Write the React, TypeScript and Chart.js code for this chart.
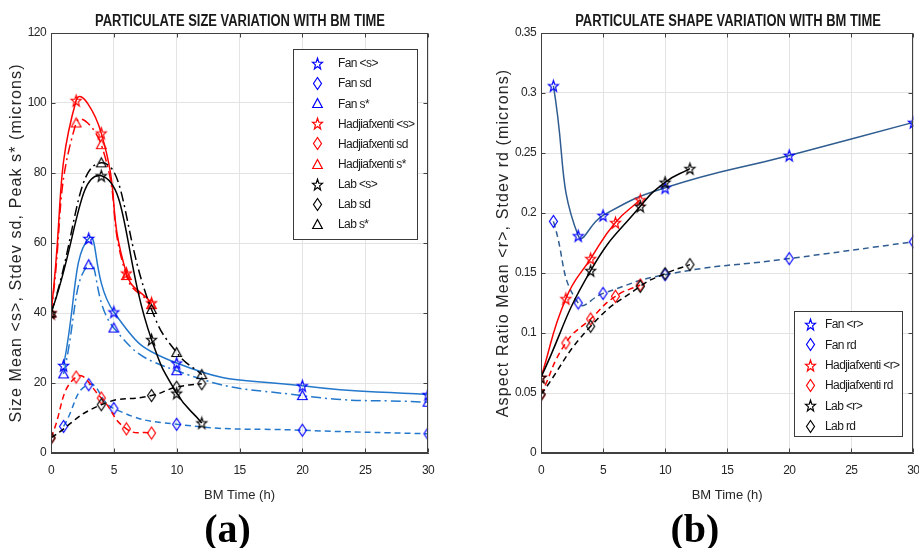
import React, { useEffect, useRef } from "react";
import { Chart, registerables } from "chart.js";

Chart.register(...registerables);

// ---------- Panel (a): particulate size ----------
const fanTime = [1, 3, 5, 10, 20, 30];
const hadjTime = [0, 2, 4, 6, 8];
const labTime = [0, 4, 8, 10, 12];

const fanMeanS = [25, 61.3, 40.3, 25.7, 19.2, 16.7];
const fanSdS = [7.6, 19.5, 12.7, 8.2, 6.5, 5.5];
const fanPeakS = [22.6, 53.8, 35.7, 23.5, 16.4, 14.5];
const hadjMeanS = [40, 100.7, 91.4, 51.4, 42.9];
const hadjSdS = [4.3, 21.7, 15.7, 6.9, 5.7];
const hadjPeakS = [40, 94.3, 88.1, 50.7, 42.4];
const labMeanS = [40, 79.2, 32.4, 17.1, 8.6];
const labSdS = [4.3, 13.8, 16.4, 18.8, 19.8];
const labPeakS = [40, 82.9, 41.0, 28.7, 22.4];

const legendA = [
  "Fan <s>", "Fan sd", "Fan s*",
  "Hadjiafxenti <s>", "Hadjiafxenti sd", "Hadjiafxenti s*",
  "Lab <s>", "Lab sd", "Lab s*",
];

// ---------- Panel (b): particulate shape ----------
const fanMeanR = [0.306, 0.181, 0.198, 0.221, 0.248, 0.2755];
const fanSdR = [0.193, 0.125, 0.133, 0.1486, 0.162, 0.176];
const hadjMeanR = [0.063, 0.1286, 0.162, 0.192, 0.211];
const hadjSdR = [0.0486, 0.0917, 0.1117, 0.1306, 0.14];
const labMeanR = [0.063, 0.152, 0.2056, 0.2256, 0.237];
const labSdR = [0.0486, 0.1056, 0.1389, 0.1494, 0.157];

const legendB = [
  "Fan <r>", "Fan rd", "Hadjiafxenti <r>", "Hadjiafxenti rd", "Lab <r>", "Lab rd",
];

const titleA = "PARTICULATE SIZE VARIATION WITH BM TIME";
const titleB = "PARTICULATE SHAPE VARIATION WITH BM TIME";
const yTitleA = "Size Mean <s>, Stdev sd, Peak s* (microns)";
const yTitleB = "Aspect Ratio Mean <r>, Stdev rd (microns)";
const xTitle = "BM Time (h)";

// ---------- styles ----------
const SANS = "'Liberation Sans', Arial, sans-serif";
const TICK = "#262626";
const GRID = "#e3e3e3";
const AXIS = "#404040";
const BLUE = "#0000ff";
const RED = "#ff0000";
const BLACK = "#000000";
const FAN_A = "#2478cc";
const FAN_B = "#2f5d91";
const DASH = [6, 4];
const DASHDOT = [10, 4, 2, 4];

type Shape = "star" | "diamond" | "triangle";

function makeMarker(shape: Shape, color: string): HTMLCanvasElement {
  const c = document.createElement("canvas");
  const size = 15;
  c.width = size;
  c.height = size;
  const g = c.getContext("2d")!;
  g.strokeStyle = color;
  g.lineWidth = 1.2;
  const cx = size / 2;
  const cy = size / 2;
  g.beginPath();
  if (shape === "star") {
    const R = 6;
    const r = 2.5;
    for (let k = 0; k < 10; k++) {
      const a = -Math.PI / 2 + (k * Math.PI) / 5;
      const rad = k % 2 === 0 ? R : r;
      const px = cx + rad * Math.cos(a) * 0.88;
      const py = cy + 0.6 + rad * Math.sin(a);
      if (k === 0) g.moveTo(px, py);
      else g.lineTo(px, py);
    }
  } else if (shape === "diamond") {
    g.moveTo(cx, cy - 6);
    g.lineTo(cx + 4, cy);
    g.lineTo(cx, cy + 6);
    g.lineTo(cx - 4, cy);
  } else {
    g.moveTo(cx, cy - 5);
    g.lineTo(cx + 4.8, cy + 4);
    g.lineTo(cx - 4.8, cy + 4);
  }
  g.closePath();
  g.stroke();
  return c;
}

const pts = (xs: number[], ys: number[]) => xs.map((x, i) => ({ x, y: ys[i] }));

function ds(label: string, xs: number[], ys: number[], line: string, dash: number[], marker: HTMLCanvasElement, order: number) {
  return {
    label,
    data: pts(xs, ys),
    borderColor: line,
    borderWidth: 1.5,
    borderDash: dash,
    tension: 0.5,
    fill: false,
    pointStyle: marker,
    pointRadius: 5,
    pointBackgroundColor: "rgba(0,0,0,0)",
    pointBorderColor: line,
    order,
  };
}

function framePlugin() {
  return {
    id: "frame",
    afterDatasetsDraw(chart: any) {
      const { ctx, chartArea: a, scales } = chart;
      ctx.save();
      ctx.strokeStyle = AXIS;
      ctx.lineWidth = 1;
      const L = Math.round(a.left) + 0.5;
      const R = Math.round(a.right) - 0.5;
      const T = Math.round(a.top) + 0.5;
      const B = Math.round(a.bottom) - 0.5;
      ctx.strokeRect(L, T, R - L, B - T);
      ctx.beginPath();
      scales.x.ticks.forEach((t: any) => {
        const px = Math.round(scales.x.getPixelForValue(t.value)) + 0.5;
        ctx.moveTo(px, B); ctx.lineTo(px, B - 4);
        ctx.moveTo(px, T); ctx.lineTo(px, T + 4);
      });
      scales.y.ticks.forEach((t: any) => {
        const py = Math.round(scales.y.getPixelForValue(t.value)) + 0.5;
        ctx.moveTo(L, py); ctx.lineTo(L + 4, py);
        ctx.moveTo(R, py); ctx.lineTo(R - 4, py);
      });
      ctx.stroke();
      ctx.restore();
    },
  };
}

interface LegendGeom { x: number; y: number; w: number; h: number; firstY: number; rowH: number; markerX: number; textX: number; }

function legendPlugin(labels: string[], markers: HTMLCanvasElement[], g: LegendGeom) {
  return {
    id: "boxLegend",
    afterDraw(chart: any) {
      const ctx = chart.ctx;
      ctx.save();
      ctx.fillStyle = "#ffffff";
      ctx.fillRect(g.x, g.y, g.w, g.h);
      ctx.strokeStyle = "#3a3a3a";
      ctx.lineWidth = 1;
      ctx.strokeRect(g.x + 0.5, g.y + 0.5, g.w, g.h);
      ctx.font = `12px ${SANS}`;
      (ctx as any).letterSpacing = "-0.6px";
      ctx.fillStyle = "#1a1a1a";
      ctx.textAlign = "left";
      ctx.textBaseline = "middle";
      labels.forEach((lab, i) => {
        const cy = g.firstY + i * g.rowH;
        const m = markers[i];
        ctx.drawImage(m, Math.round(g.markerX - m.width / 2), Math.round(cy - m.height / 2));
        ctx.fillText(lab, g.textX, cy + 0.5);
      });
      ctx.restore();
    },
  };
}

// wrap a scale drawing method so that it uses a given canvas letter spacing
function withSpacing(s: any, method: string, spacing: string) {
  const key = "__ls_" + method;
  if (s[key]) return;
  const orig = s[method].bind(s);
  s[method] = (...args: any[]) => {
    const c = s.ctx;
    c.save();
    c.letterSpacing = spacing;
    orig(...args);
    c.restore();
  };
  s[key] = true;
}

function makeScales(yMax: number, yStep: number, yTitle: string, yTitlePad: number, yWidth: number, fmt: (v: number) => string) {
  return {
    x: {
      type: "linear",
      min: 0,
      max: 30,
      ticks: { stepSize: 5, padding: 10, color: TICK, maxRotation: 0, autoSkip: false, font: { family: SANS, size: 12 } },
      grid: { color: GRID, drawTicks: false },
      border: { color: AXIS },
      title: { display: true, text: xTitle, color: TICK, font: { family: SANS, size: 13 }, padding: { top: 0, bottom: 10 } },
      afterFit: (s: any) => {
        s.height = 60;
        withSpacing(s, "drawLabels", "-0.6px");
      },
    },
    y: {
      type: "linear",
      min: 0,
      max: yMax,
      ticks: { stepSize: yStep, padding: 5, color: TICK, font: { family: SANS, size: 12 }, callback: (v: any) => fmt(Number(v)) },
      grid: { color: GRID, drawTicks: false },
      border: { color: AXIS },
      title: { display: true, text: yTitle, color: TICK, font: { family: SANS, size: 16 }, padding: { top: yTitlePad, bottom: 0 } },
      afterFit: (s: any) => {
        s.width = yWidth;
        withSpacing(s, "drawTitle", "1.1px");
        withSpacing(s, "drawLabels", "-0.6px");
      },
    },
  };
}

export default function App() {
  const refA = useRef<HTMLCanvasElement>(null);
  const refB = useRef<HTMLCanvasElement>(null);

  useEffect(() => {
    const mk = {
      bs: makeMarker("star", BLUE), bd: makeMarker("diamond", BLUE), bt: makeMarker("triangle", BLUE),
      rs: makeMarker("star", RED), rd: makeMarker("diamond", RED), rt: makeMarker("triangle", RED),
      ks: makeMarker("star", BLACK), kd: makeMarker("diamond", BLACK), kt: makeMarker("triangle", BLACK),
    };

    const chartA = new Chart(refA.current!, {
      type: "line",
      data: {
        datasets: [
          ds(legendA[0], fanTime, fanMeanS, FAN_A, [], mk.bs, 9),
          ds(legendA[1], fanTime, fanSdS, FAN_A, DASH, mk.bd, 8),
          ds(legendA[2], fanTime, fanPeakS, FAN_A, DASHDOT, mk.bt, 7),
          ds(legendA[3], hadjTime, hadjMeanS, RED, [], mk.rs, 6),
          ds(legendA[4], hadjTime, hadjSdS, RED, DASH, mk.rd, 5),
          ds(legendA[5], hadjTime, hadjPeakS, RED, DASHDOT, mk.rt, 4),
          ds(legendA[6], labTime, labMeanS, BLACK, [], mk.ks, 3),
          ds(legendA[7], labTime, labSdS, BLACK, DASH, mk.kd, 2),
          ds(legendA[8], labTime, labPeakS, BLACK, DASHDOT, mk.kt, 1),
        ] as any,
      },
      options: {
        responsive: false,
        maintainAspectRatio: false,
        animation: false,
        devicePixelRatio: 1,
        layout: { padding: { top: 33, left: 0, right: 32, bottom: 35 } },
        plugins: { legend: { display: false }, tooltip: { enabled: false } },
        scales: makeScales(120, 20, yTitleA, 7.4, 51, (v) => String(v)) as any,
      },
      plugins: [
        framePlugin(),
        legendPlugin(legendA, [mk.bs, mk.bd, mk.bt, mk.rs, mk.rd, mk.rt, mk.ks, mk.kd, mk.kt], {
          x: 293, y: 49, w: 124, h: 190, firstY: 63.5, rowH: 20.1, markerX: 317.5, textX: 338,
        }),
      ] as any,
    });

    const chartB = new Chart(refB.current!, {
      type: "line",
      data: {
        datasets: [
          ds(legendB[0], fanTime, fanMeanR, FAN_B, [], mk.bs, 6),
          ds(legendB[1], fanTime, fanSdR, FAN_B, DASH, mk.bd, 5),
          ds(legendB[2], hadjTime, hadjMeanR, RED, [], mk.rs, 4),
          ds(legendB[3], hadjTime, hadjSdR, RED, DASH, mk.rd, 3),
          ds(legendB[4], labTime, labMeanR, BLACK, [], mk.ks, 2),
          ds(legendB[5], labTime, labSdR, BLACK, DASH, mk.kd, 1),
        ] as any,
      },
      options: {
        responsive: false,
        maintainAspectRatio: false,
        animation: false,
        devicePixelRatio: 1,
        layout: { padding: { top: 33, left: 0, right: 16, bottom: 35 } },
        plugins: { legend: { display: false }, tooltip: { enabled: false } },
        scales: makeScales(0.35, 0.05, yTitleB, 34.4, 81, (v) => String(Math.round(v * 100) / 100)) as any,
      },
      plugins: [
        framePlugin(),
        legendPlugin(legendB, [mk.bs, mk.bd, mk.rs, mk.rd, mk.ks, mk.kd], {
          x: 334, y: 311, w: 108, h: 125, firstY: 324.5, rowH: 20.3, markerX: 350.7, textX: 365,
        }),
      ] as any,
    });

    return () => {
      chartA.destroy();
      chartB.destroy();
    };
  }, []);

  const titleStyle: React.CSSProperties = {
    position: "absolute",
    top: 13,
    width: 400,
    textAlign: "center",
    font: `bold 16px ${SANS}`,
    lineHeight: "16px",
    color: "#1a1a1a",
    whiteSpace: "nowrap",
    transform: "scaleX(0.81)",
    transformOrigin: "50% 50%",
  };
  const panelLabel: React.CSSProperties = {
    position: "absolute",
    top: 509,
    width: 100,
    textAlign: "center",
    font: "bold 40px 'Liberation Serif', 'Times New Roman', serif",
    lineHeight: "40px",
    color: "#000",
  };

  return (
    <div style={{ position: "absolute", left: 0, top: 0, width: 919, height: 548, overflow: "hidden", background: "#fff" }}>
      <canvas ref={refA} width={460} height={548} style={{ position: "absolute", left: 0, top: 0, display: "block" }} />
      <canvas ref={refB} width={470} height={548} style={{ position: "absolute", left: 460, top: 0, display: "block" }} />
      <div style={{ ...titleStyle, left: 239.5 - 200 }}>{titleA}</div>
      <div style={{ ...titleStyle, left: 727.5 - 200 }}>{titleB}</div>
      <div style={{ ...panelLabel, left: 227.5 - 50 }}>(a)</div>
      <div style={{ ...panelLabel, left: 695 - 50 }}>(b)</div>
    </div>
  );
}
